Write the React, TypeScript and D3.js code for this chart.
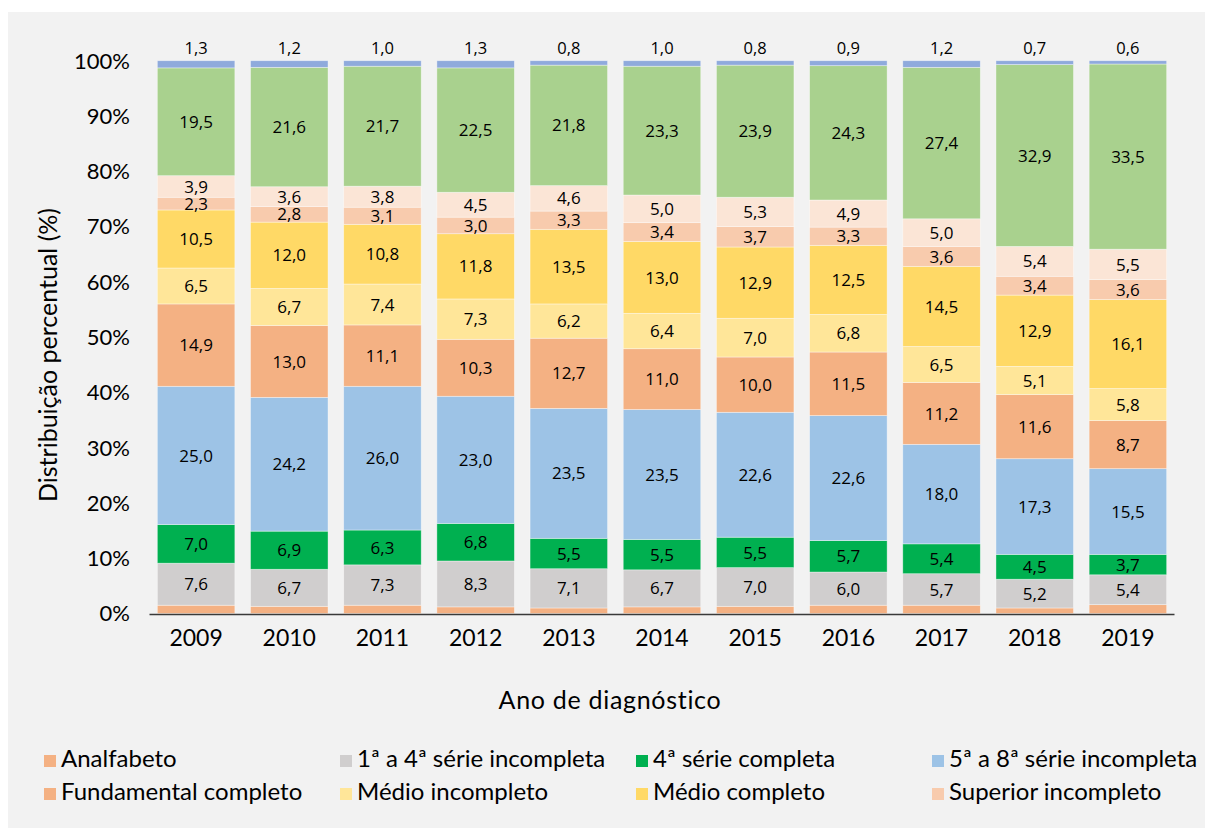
import React from "react";
import * as d3 from "d3";

const years = ["2009", "2010", "2011", "2012", "2013", "2014", "2015", "2016", "2017", "2018", "2019"];

const seriesNames = [
  "Analfabeto",
  "1ª a 4ª série incompleta",
  "4ª série completa",
  "5ª a 8ª série incompleta",
  "Fundamental completo",
  "Médio incompleto",
  "Médio completo",
  "Superior incompleto",
  "Superior completo",
  "Ignorado",
  "Não se aplica",
];

const seriesColors = [
  "#F4B183", "#D0CECE", "#00B050", "#9DC3E6", "#F4B183",
  "#FFE699", "#FFD966", "#F8CBAD", "#FBE5D6", "#A9D18E", "#8FAADC",
];

const analfabeto = [1.5, 1.3, 1.5, 1.2, 1.0, 1.2, 1.3, 1.5, 1.5, 1.0, 1.6];
const serie1a4 = [7.6, 6.7, 7.3, 8.3, 7.1, 6.7, 7.0, 6.0, 5.7, 5.2, 5.4];
const serie4 = [7.0, 6.9, 6.3, 6.8, 5.5, 5.5, 5.5, 5.7, 5.4, 4.5, 3.7];
const serie5a8 = [25.0, 24.2, 26.0, 23.0, 23.5, 23.5, 22.6, 22.6, 18.0, 17.3, 15.5];
const fundamental = [14.9, 13.0, 11.1, 10.3, 12.7, 11.0, 10.0, 11.5, 11.2, 11.6, 8.7];
const medioInc = [6.5, 6.7, 7.4, 7.3, 6.2, 6.4, 7.0, 6.8, 6.5, 5.1, 5.8];
const medioComp = [10.5, 12.0, 10.8, 11.8, 13.5, 13.0, 12.9, 12.5, 14.5, 12.9, 16.1];
const superiorInc = [2.3, 2.8, 3.1, 3.0, 3.3, 3.4, 3.7, 3.3, 3.6, 3.4, 3.6];
const superiorComp = [3.9, 3.6, 3.8, 4.5, 4.6, 5.0, 5.3, 4.9, 5.0, 5.4, 5.5];
const ignorado = [19.5, 21.6, 21.7, 22.5, 21.8, 23.3, 23.9, 24.3, 27.4, 32.9, 33.5];
const naoSeAplica = [1.3, 1.2, 1.0, 1.3, 0.8, 1.0, 0.8, 0.9, 1.2, 0.7, 0.6];

const seriesValues = [
  analfabeto, serie1a4, serie4, serie5a8, fundamental,
  medioInc, medioComp, superiorInc, superiorComp, ignorado, naoSeAplica,
];

const yTicks = [0, 10, 20, 30, 40, 50, 60, 70, 80, 90, 100];
const legendCount = 8;

const W = 1205;
const H = 828;
const FONT = "Lato, 'Open Sans', sans-serif";
const VFONT = "'Open Sans', 'Noto Sans', sans-serif";

const fmt = (v: number) => v.toFixed(1).replace(".", ",");

export default function App() {
  const rows = years.map((y, i) => {
    const r: any = { year: y };
    seriesNames.forEach((n, k) => (r[n] = seriesValues[k][i]));
    return r;
  });
  const stack = d3.stack<any>().keys(seriesNames).offset(d3.stackOffsetExpand);
  const layers = stack(rows);

  const x = d3.scaleBand<string>().domain(years).range([149.5, 1174.5]).paddingInner(0.168).paddingOuter(0.084);
  const y = d3.scaleLinear().domain([0, 1]).range([613.5, 60.7]);
  const yPct = d3.scaleLinear().domain([0, 100]).range([613.5, 60.7]);

  const legendCols = [44, 340, 636, 932];
  const legendRows = [755, 788];

  return (
    <div style={{ position: "absolute", left: 0, top: 0 }}>
      <svg width={W} height={H} style={{ display: "block" }}>
        <rect x={0} y={0} width={W} height={H} fill="#ffffff" />
        <rect x={8} y={12} width={W - 8} height={H - 12} fill="#F2F2F2" />

        {layers.map((layer, k) => (
          <g key={k}>
            {layer.map((d, i) => {
              const x0 = x(years[i]) as number;
              const bw = x.bandwidth();
              const top = y(d[1]);
              const bot = y(d[0]);
              const v = seriesValues[k][i];
              const cx = x0 + bw / 2;
              let label = null;
              if (k === seriesNames.length - 1) {
                label = (
                  <text x={cx} y={top - 7} textAnchor="middle" fontFamily={VFONT} fontSize={16.5} fill="#000">
                    {fmt(v)}
                  </text>
                );
              } else if (k > 0) {
                label = (
                  <text x={cx} y={(top + bot) / 2} dy="0.36em" textAnchor="middle" fontFamily={VFONT} fontSize={17} fill="#000">
                    {fmt(v)}
                  </text>
                );
              }
              return (
                <g key={i}>
                  <rect x={x0} y={top} width={bw} height={bot - top} fill={seriesColors[k]} stroke="#ffffff" strokeOpacity={0.5} strokeWidth={0.75} />
                  {label}
                </g>
              );
            })}
          </g>
        ))}

        <line x1={149.5} x2={1174.5} y1={614.5} y2={614.5} stroke="#3a3a3a" strokeWidth={1.5} />

        {yTicks.map((t) => (
          <text key={t} x={130} y={yPct(t)} dy="0.36em" textAnchor="end" fontFamily={FONT} fontSize={22} fill="#000">
            {t}%
          </text>
        ))}

        {years.map((yr) => (
          <text key={yr} x={(x(yr) as number) + x.bandwidth() / 2} y={646} textAnchor="middle" fontFamily={FONT} fontSize={23} fill="#000">
            {yr}
          </text>
        ))}

        <text x={610} y={709} textAnchor="middle" fontFamily={FONT} fontSize={25} letterSpacing={0.7} fill="#000">
          Ano de diagnóstico
        </text>
        <text transform={`translate(57,355) rotate(-90)`} textAnchor="middle" fontFamily={FONT} fontSize={25} fill="#000">
          Distribuição percentual (%)
        </text>

        {seriesNames.slice(0, legendCount).map((n, k) => {
          const col = k % 4;
          const row = Math.floor(k / 4);
          const lx = legendCols[col];
          const ly = legendRows[row];
          return (
            <g key={n}>
              <rect x={lx} y={ly} width={12} height={12} fill={seriesColors[k]} />
              <text x={lx + 17} y={ly + 12} fontFamily={FONT} fontSize={24} fill="#000">
                {n}
              </text>
            </g>
          );
        })}
      </svg>
    </div>
  );
}
